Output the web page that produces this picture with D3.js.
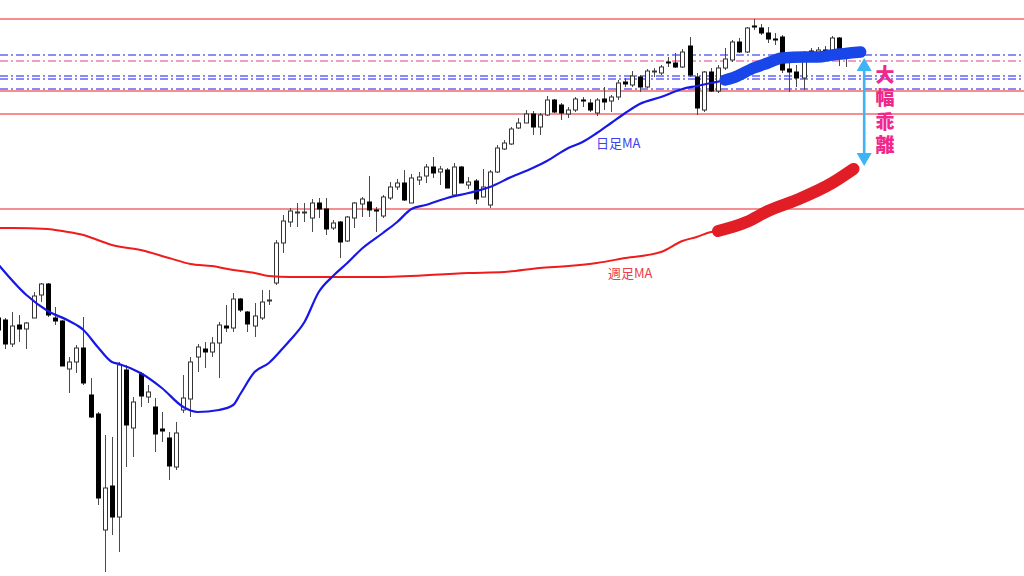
<!DOCTYPE html>
<html>
<head>
<meta charset="utf-8">
<script src="https://cdn.jsdelivr.net/npm/d3@7"></script>
<style>
html,body{margin:0;padding:0;background:#fff;}
svg{display:block;}
</style>
</head>
<body>
<svg id="chart" width="1024" height="576"></svg>
<script>
// ---- data (price units) ----
const openP  = [282,280,256,275,271,282,305,316,282,279,231,238,252,205,186,70,114,83,230,172,226,203,193,171,162,133,190,201,243,251,248,257,274,272,301,288,274,282,299,317,357,378,387,387,382,397,391,372,378,359,382,396,398,390,384,402,413,417,397,420,424,433,428,430,405,433,415,419,403,395,428,451,456,472,477,486,473,485,500,495,486,490,500,497,487,501,499,503,518,515,523,513,528,527,538,537,533,554,523,490,528,509,532,540,558,548,574,572,567,561,563,531,528,522,549,546,550,548,562,545];
const highP  = [285,282,288,285,278,308,317,317,293,280,243,255,283,222,188,165,163,238,235,203,228,215,202,188,168,178,225,243,256,258,263,278,295,307,302,289,297,310,310,360,385,392,397,397,401,402,402,380,379,384,398,403,424,393,405,418,421,430,426,428,436,443,434,432,437,434,423,421,431,430,455,460,473,482,490,489,487,504,501,497,493,503,503,501,502,513,505,520,522,529,525,531,532,535,543,547,551,563,527,529,532,535,552,560,562,573,581,576,573,567,565,545,535,549,552,553,554,564,563,548];
const lowP   = [265,251,253,258,251,282,298,283,275,234,207,227,215,182,95,28,65,48,133,143,193,197,148,158,120,130,187,183,228,232,243,222,268,268,288,268,263,280,295,315,347,373,373,378,368,382,365,370,342,358,372,383,383,368,382,400,410,399,397,415,417,422,415,412,404,417,411,396,403,392,427,450,455,471,477,465,465,484,487,480,482,488,493,488,484,490,488,500,513,513,508,512,523,525,533,532,532,523,485,488,508,507,530,538,547,547,570,565,557,555,527,508,513,510,542,543,543,545,534,533];
const closeP = [270,256,274,271,277,304,316,285,279,234,238,252,217,183,102,112,83,235,175,198,204,208,166,169,134,167,202,238,253,248,257,275,272,301,290,276,284,298,300,357,379,389,388,388,397,391,371,377,358,383,397,401,390,389,403,413,417,400,422,423,433,427,431,412,433,417,418,401,413,428,452,457,471,477,486,473,485,500,488,487,490,501,499,490,500,498,503,517,516,524,513,529,529,533,537,533,548,525,492,528,509,532,541,558,548,572,573,567,561,560,530,528,522,547,546,550,547,562,548,542];

// daily moving average (sampled by candle index)
const maDailyIdx = [0,4,7,10,12,14,16,17,20,23,26,28,31,33,34,36,38,40,41,43,45,47,49,51,54,56,58,60,63,66,69,72,75,77,80,82,84,86,88,90,93,96,98,100,102,103,106,108,110,113,115,117,121];
const maDailyVal = [336,305,289,279,270,253,238,236,227,212,193,188,190,195,206,228,237,252,260,278,308,324,337,351,367,378,391,395,402,407,413,423,432,439,452,458,467,477,487,496,503,511,514,517,520,522,532,537,542,543,543,545,548];
// weekly moving average
const maWeeklyIdx = [0,2,7,9,12,14,16,20,24,27,30,33,36,38,41,54,66,71,76,80,84,88,93,96,98,100,101,105,108,112,117,120];
const maWeeklyVal = [372,372,371,369,365,360,355,350,342,336,334,330,327,324,323,323,327,328,332,334,337,342,348,359,363,368,369,378,389,400,417,431];

const highlightDailyFrom = 102;
const highlightWeeklyFrom = 101;

// horizontal levels
const redLevels = [581,509,486,391];
const blueLevels = [545.5,524.3,521.5,511.5];
const pinkLevels = [539.3];

const labelDaily = "日足MA";
const labelWeekly = "週足MA";
const noteText = "大幅乖離";

// ---- drawing ----
const W = 1024, H = 576;
const svg = d3.select("#chart");
const n = openP.length;
const x = d3.scaleLinear().domain([0, 120]).range([-2.1, -2.1 + 120*7.13]);
const y = d3.scaleLinear().domain([24, 600]).range([576, 0]);

svg.append("rect").attr("width", W).attr("height", H).attr("fill", "#fff");

const gLev = svg.append("g");
function level(v, color, dash) {
  const yy = Math.round(y(v));
  const l = gLev.append("line").attr("x1",0).attr("x2",W)
    .attr("y1", yy).attr("y2", yy)
    .attr("stroke", color).attr("stroke-width", 1.7);
  if (dash) l.attr("stroke-dasharray", dash);
}
redLevels.forEach(v => level(v, "#f26a6a", null));
blueLevels.forEach(v => level(v, "#6565f4", "8,3,2,3"));
pinkLevels.forEach(v => level(v, "#f27cae", "8,3,2,3"));

// candles
const candles = d3.range(n).map(i => ({i, o: openP[i], h: highP[i], l: lowP[i], c: closeP[i]}));
const gC = svg.append("g");
const bw = 5;
const cg = gC.selectAll("g").data(candles).join("g");
cg.append("line")
  .attr("x1", d => Math.round(x(d.i))+0.5).attr("x2", d => Math.round(x(d.i))+0.5)
  .attr("y1", d => y(d.h)).attr("y2", d => y(d.l))
  .attr("stroke", "#4a4a4a").attr("stroke-width", 1);
cg.append("rect")
  .attr("x", d => Math.round(x(d.i)) - 2 + 0.5)
  .attr("width", bw - 1)
  .attr("y", d => y(Math.max(d.o, d.c)))
  .attr("height", d => Math.max(1, Math.abs(y(d.o) - y(d.c))))
  .attr("fill", d => d.c >= d.o ? "#fff" : "#000")
  .attr("stroke", d => d.c >= d.o ? "#333" : "#000")
  .attr("stroke-width", 1);

// moving averages
const daily = maDailyIdx.map((k, j) => ({k, v: maDailyVal[j]}));
const weekly = maWeeklyIdx.map((k, j) => ({k, v: maWeeklyVal[j]}));
const line = d3.line().x(d => x(d.k)).y(d => y(d.v)).curve(d3.curveMonotoneX);

svg.append("path").datum(weekly).attr("d", line)
  .attr("fill","none").attr("stroke","#f01c1c").attr("stroke-width",2);
svg.append("path").datum(daily).attr("d", line)
  .attr("fill","none").attr("stroke","#1818e6").attr("stroke-width",2.2);

svg.append("path").datum(weekly.filter(d => d.k >= highlightWeeklyFrom)).attr("d", line)
  .attr("fill","none").attr("stroke","#e11d25").attr("stroke-width",12)
  .attr("stroke-linecap","round").attr("stroke-linejoin","round");
svg.append("path").datum(daily.filter(d => d.k >= highlightDailyFrom)).attr("d", line)
  .attr("fill","none").attr("stroke","#1846e8").attr("stroke-width",11.5)
  .attr("stroke-linecap","round").attr("stroke-linejoin","round");

// labels
svg.append("text").attr("x", 596).attr("y", 148).text(labelDaily)
  .attr("font-family","'Noto Sans CJK JP', sans-serif").attr("font-size",13)
  .attr("fill","#4040ec");
svg.append("text").attr("x", 608).attr("y", 278).text(labelWeekly)
  .attr("font-family","'Noto Sans CJK JP', sans-serif").attr("font-size",13)
  .attr("fill","#ec3c48");

// arrow between the two MA ends
const endDaily = daily[daily.length-1], endWeekly = weekly[weekly.length-1];
const ax = x(121.5);
const yTop = y(endDaily.v) + 6, yBot = y(endWeekly.v) - 3;
const ac = "#3db4f5", ah = 13, aw = 7.5;
svg.append("line").attr("x1",ax).attr("x2",ax).attr("y1",yTop+ah-1).attr("y2",yBot-ah+1)
  .attr("stroke",ac).attr("stroke-width",2.6);
svg.append("path").attr("d",`M${ax},${yTop} L${ax-aw},${yTop+ah} L${ax+aw},${yTop+ah} Z`).attr("fill",ac);
svg.append("path").attr("d",`M${ax},${yBot} L${ax-aw},${yBot-ah} L${ax+aw},${yBot-ah} Z`).attr("fill",ac);

// vertical note (single text, vertical writing)
svg.append("text")
  .attr("x", 885).attr("y", 65)
  .style("writing-mode", "vertical-rl")
  .attr("font-family","'Noto Sans CJK JP', sans-serif").attr("font-weight",900)
  .attr("font-size",19).attr("letter-spacing", 4.5)
  .attr("fill","#f0288c").text(noteText);
</script>
</body>
</html>
